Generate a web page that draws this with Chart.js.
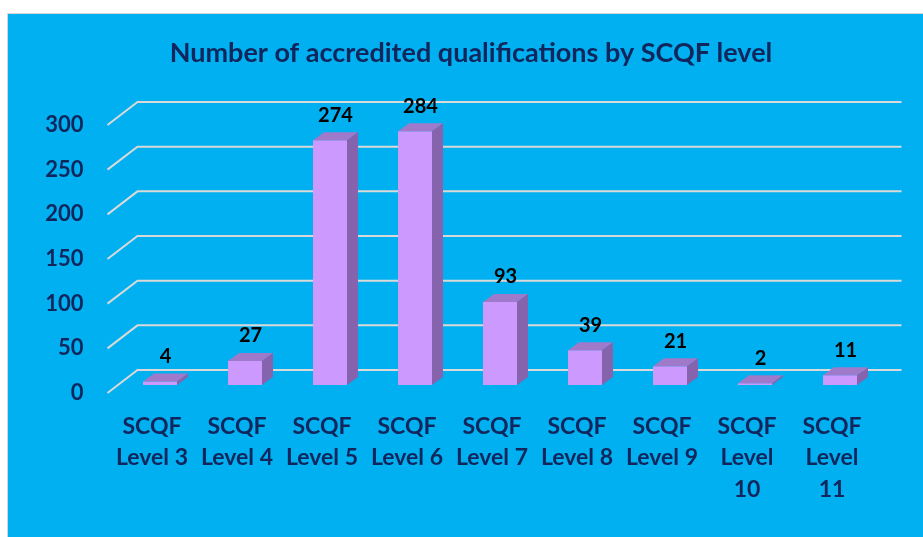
<!DOCTYPE html>
<html>
<head>
<meta charset="utf-8">
<script src="https://cdn.jsdelivr.net/npm/chart.js@4.4.1/dist/chart.umd.min.js"></script>
<style>
  html, body { margin: 0; padding: 0; background: #ffffff; }
  #wrap { position: relative; width: 923px; height: 537px; }
</style>
</head>
<body>
<div id="wrap"><canvas id="c" width="923" height="537"></canvas></div>
<script>
const chartTitle = 'Number of accredited qualifications by SCQF level';
const categories = [
  ['SCQF', 'Level 3'], ['SCQF', 'Level 4'], ['SCQF', 'Level 5'], ['SCQF', 'Level 6'],
  ['SCQF', 'Level 7'], ['SCQF', 'Level 8'], ['SCQF', 'Level 9'],
  ['SCQF', 'Level', '10'], ['SCQF', 'Level', '11']
];
const qualifications = [4, 27, 274, 284, 93, 39, 21, 2, 11];
const yTicks = [0, 50, 100, 150, 200, 250, 300];

const NAVY = '#10265C';
const BAR_FRONT = '#CC99FF';
const BAR_TOP = '#A07ACA';
const BAR_SIDE = '#8663AD';
const GRID = '#D9D9D9';
const DEPTH = { dx: 11, dy: -8 };

const backgroundPlugin = {
  id: 'bg',
  beforeDraw(chart) {
    const ctx = chart.ctx;
    ctx.save();
    ctx.fillStyle = '#ffffff';
    ctx.fillRect(0, 0, chart.width, chart.height);
    ctx.fillStyle = '#00B0F0';
    ctx.fillRect(8, 14, chart.width - 8, chart.height - 14);
    ctx.strokeStyle = '#D4D4D4';
    ctx.lineWidth = 1;
    ctx.beginPath();
    ctx.moveTo(7.5, chart.height);
    ctx.lineTo(7.5, 13.5);
    ctx.lineTo(chart.width, 13.5);
    ctx.stroke();
    ctx.restore();
  }
};

const titleShiftPlugin = {
  id: 'titleShift',
  afterLayout(chart) {
    const t = chart.titleBlock;
    if (t) { t.left += 21; t.right += 21; }
  }
};

const gridPlugin = {
  id: 'grid3d',
  beforeDatasetsDraw(chart) {
    const ctx = chart.ctx;
    const y = chart.scales.y;
    const area = chart.chartArea;
    ctx.save();
    ctx.strokeStyle = GRID;
    ctx.lineWidth = 2;
    y.ticks.forEach(t => {
      const py = y.getPixelForValue(t.value);
      ctx.beginPath();
      ctx.moveTo(area.left - 10, py + 8);
      ctx.lineTo(area.left + 20, py - 15);
      ctx.lineTo(area.right + 19, py - 15);
      ctx.stroke();
    });
    ctx.restore();
  }
};

const bar3dPlugin = {
  id: 'bar3d',
  afterDatasetsDraw(chart) {
    const ctx = chart.ctx;
    const meta = chart.getDatasetMeta(0);
    ctx.save();
    meta.data.forEach((bar, i) => {
      const p = bar.getProps(['x', 'y', 'base', 'width'], true);
      const l = p.x - p.width / 2, r = p.x + p.width / 2;
      const top = p.y, base = p.base;
      ctx.fillStyle = BAR_TOP;
      ctx.beginPath();
      ctx.moveTo(l, top);
      ctx.lineTo(l + DEPTH.dx, top + DEPTH.dy);
      ctx.lineTo(r + DEPTH.dx, top + DEPTH.dy);
      ctx.lineTo(r, top);
      ctx.closePath();
      ctx.fill();
      ctx.fillStyle = BAR_SIDE;
      ctx.beginPath();
      ctx.moveTo(r, top);
      ctx.lineTo(r + DEPTH.dx, top + DEPTH.dy);
      ctx.lineTo(r + DEPTH.dx, base + DEPTH.dy);
      ctx.lineTo(r, base);
      ctx.closePath();
      ctx.fill();
      // value label
      ctx.fillStyle = '#000000';
      ctx.font = 'bold 20px Lato';
      ctx.textAlign = 'center';
      ctx.textBaseline = 'middle';
      ctx.fillText(String(qualifications[i]), p.x + DEPTH.dx / 2, top + DEPTH.dy - 17);
    });
    ctx.restore();
  }
};

new Chart(document.getElementById('c'), {
  type: 'bar',
  data: {
    labels: categories,
    datasets: [{
      data: qualifications,
      backgroundColor: BAR_FRONT,
      borderWidth: 0,
      barPercentage: 0.4,
      categoryPercentage: 1.0
    }]
  },
  options: {
    responsive: false,
    animation: false,
    layout: { padding: { left: 17.5, right: 40.5, top: 0, bottom: 22 } },
    plugins: {
      legend: { display: false },
      tooltip: { enabled: false },
      title: {
        display: true,
        text: chartTitle,
        color: NAVY,
        font: { family: 'Lato', size: 27, weight: 'bold', lineHeight: 1.2 },
        padding: { top: 37, bottom: 47.6 }
      }
    },
    scales: {
      x: {
        grid: { display: false, drawTicks: false },
        border: { display: false },
        ticks: {
          color: NAVY,
          font: { family: 'Lato', size: 23, weight: 'bold', lineHeight: 1.35 },
          padding: 26.5,
          labelOffset: -8,
          autoSkip: false,
          maxRotation: 0,
          minRotation: 0
        },
        afterFit(axis) { axis.height = 130; }
      },
      y: {
        min: 0,
        max: 300,
        afterBuildTicks(axis) { axis.ticks = yTicks.map(v => ({ value: v })); },
        grid: { display: false, drawTicks: false },
        border: { display: false },
        ticks: {
          color: NAVY,
          font: { family: 'Lato', size: 22, weight: 'bold' },
          padding: 34,
          labelOffset: 8
        },
        afterFit(axis) { axis.width = 100; }
      }
    }
  },
  plugins: [backgroundPlugin, titleShiftPlugin, gridPlugin, bar3dPlugin]
});
</script>
</body>
</html>
